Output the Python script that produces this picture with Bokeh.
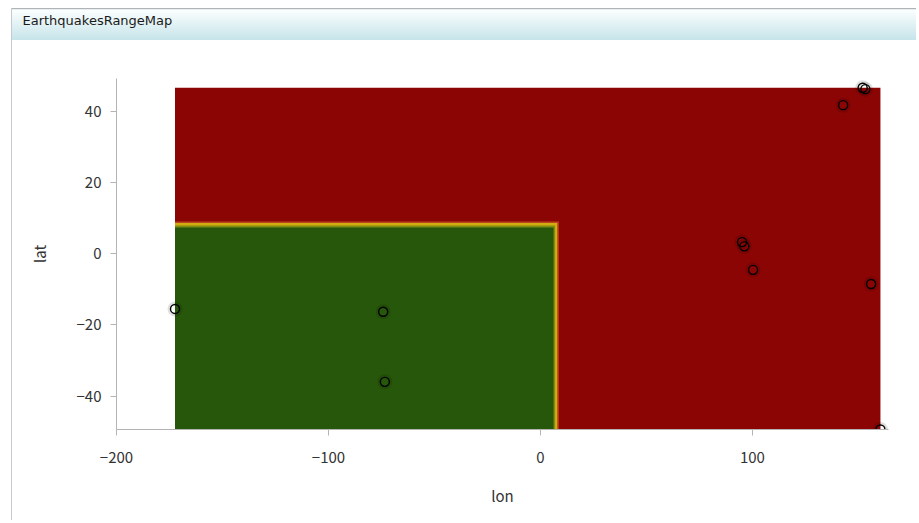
from bokeh.plotting import figure
from bokeh.models import Range1d, FixedTicker, ColumnDataSource, Title
from bokeh.embed import file_html
from bokeh.resources import INLINE

# ---------------- data ----------------
title_text = "EarthquakesRangeMap"
x_label = "lon"
y_label = "lat"

# earthquake epicentres
quake_lon = [-172.4, -74.2, -73.4, 95.1, 96.2, 100.3, 156.0, 142.8, 152.0, 153.3, 160.4]
quake_lat = [-15.5, -16.3, -36.0, 3.3, 2.1, -4.5, -8.5, 41.8, 46.7, 46.3, -49.4]

# range-map zones, outermost first
zone_left = [-172.4, -172.4, -172.4, -172.4, -172.4]
zone_right = [160.4, 8.65, 7.9, 6.9, 6.2]
zone_bottom = [-49.4, -49.4, -49.4, -49.4, -49.4]
zone_top = [46.7, 9.1, 8.7, 7.95, 7.4]
zone_color = ["#8b0505", "#b9461c", "#d3ad0f", "#7e8e12", "#27570a"]

x_ticks = [-200, -100, 0, 100]
x_tick_labels = ["\u2212200", "\u2212100", "0", "100"]
y_ticks = [-40, -20, 0, 20, 40]
y_tick_labels = ["\u221240", "\u221220", "0", "20", "40"]
x_start, x_end = -200, 164.2
y_start, y_end = -49.4, 49.3

FONT = "Noto Sans CJK JP"

p = figure(frame_width=772, frame_height=351,
           x_range=Range1d(x_start, x_end), y_range=Range1d(y_start, y_end),
           toolbar_location=None, output_backend="svg",
           min_border_left=116, min_border_right=28, min_border_top=78, min_border_bottom=91)
p.outline_line_color = None
p.grid.visible = False
p.background_fill_color = "white"
p.border_fill_alpha = 0.0

# panel frame: left border line and gradient header (CSS on the plot's host element)
p.styles = {
    "background-color": "#ffffff",
    "background-image": ("linear-gradient(#c4ccd0, #c4ccd0), "
                         "linear-gradient(to bottom, #b0b4b6 0px, #b0b4b6 1px, #d8dcdd 1px, "
                         "#fbfefe 2px, #c6e4ea 32px)"),
    "background-position": "11px 8px, 12px 8px",
    "background-size": "1px 1000px, 2000px 32px",
    "background-repeat": "no-repeat",
}

# title placed in the header: an empty spacer title next to the frame, the real title above it
p.title.text = ""
p.add_layout(Title(text=" ", standoff=34, text_font="DejaVu Sans", text_font_size="13px"), "above")
p.add_layout(Title(text=title_text, align="left", offset=-94, standoff=0,
                   text_font="DejaVu Sans", text_font_size="13px",
                   text_font_style="normal", text_color="#1a1a1a"), "above")

# ---------------- data marks ----------------
zsrc = ColumnDataSource(dict(left=zone_left, right=zone_right, top=zone_top,
                             bottom=zone_bottom, color=zone_color))
p.quad(left="left", right="right", top="top", bottom="bottom", fill_color="color",
       line_color=None, source=zsrc)

qsrc = ColumnDataSource(dict(x=quake_lon, y=quake_lat))
p.scatter("x", "y", source=qsrc, marker="circle", size=12, fill_color=None,
          line_color="black", line_alpha=0.12, line_width=3)
p.scatter("x", "y", source=qsrc, marker="circle", size=9, fill_color=None,
          line_color="black", line_width=1.4)

for ax, ticks, labels in ((p.xaxis, x_ticks, x_tick_labels), (p.yaxis, y_ticks, y_tick_labels)):
    ax.ticker = FixedTicker(ticks=ticks)
    ax.major_label_overrides = dict(zip(ticks, labels))
    ax.axis_line_color = "#b4b4b4"
    ax.major_tick_line_color = "#b4b4b4"
    ax.minor_tick_line_color = None
    ax.major_tick_out = 6
    ax.major_tick_in = 0
    ax.major_label_text_font = FONT
    ax.major_label_text_font_size = "15px"
    ax.major_label_text_color = "#333333"
    ax.axis_label_text_font = FONT
    ax.axis_label_text_font_size = "15px"
    ax.axis_label_text_font_style = "normal"
    ax.axis_label_text_color = "#333333"

p.xaxis.axis_label = x_label
p.yaxis.axis_label = y_label
p.xaxis.major_label_standoff = 16
p.yaxis.major_label_standoff = 9
p.xaxis.axis_label_standoff = 19
p.yaxis.axis_label_standoff = 24

open("out.html", "w").write(file_html(p, INLINE))
